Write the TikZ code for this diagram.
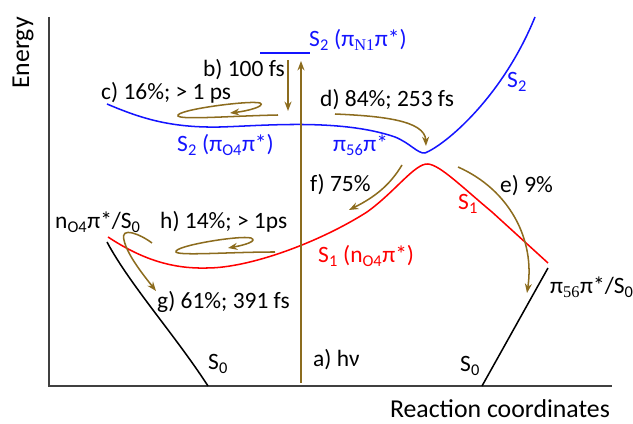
\documentclass[tikz,border=0pt]{standalone}
\usepackage{fontspec}
\setmainfont{Carlito}
\newfontfamily\serifsub{Liberation Serif}
\usetikzlibrary{arrows.meta}
\definecolor{pathbrown}{RGB}{140,108,30}
\definecolor{stateblue}{RGB}{20,20,255}
\definecolor{statered}{RGB}{255,0,0}
\begin{document}
\begin{tikzpicture}[x=0.3mm,y=-0.3mm,
        lbl/.style={inner sep=0pt,anchor=base west,font=\fontsize{20}{24}\selectfont},
        axlbl/.style={inner sep=0pt,font=\fontsize{22}{26}\selectfont},
        proc/.style={draw=pathbrown,line width=1.3pt,-{Stealth[length=8pt,width=6pt]}},
        pes/.style={line width=1.3pt}]
    \useasboundingbox (0,0) rectangle (633,424);
    % axes
    \draw [line width=1.4pt,black!75] (49,17) -- (49,386) -- (612,386);
    \node [axlbl,rotate=90] (energy) at (23,53) {Energy};
    \node [axlbl,anchor=base] (rcoord) at (500,418) {Reaction coordinates};
    % potential energy curves
    \draw [pes,stateblue] (260,53) -- (310,53);
    \draw [pes,stateblue] (107,104) .. controls (140,118) and (170,128) .. (220,127)
        .. controls (260,126) and (340,118) .. (395,137) .. controls (410,143) and (418,154) .. (425,153)
        .. controls (445,145) and (502,98) .. (535,17);
    \draw [pes,statered] (108,237) .. controls (140,258) and (170,269) .. (207,268)
        .. controls (250,268) and (320,242) .. (367,212) .. controls (395,192) and (415,163) .. (428,164)
        .. controls (440,165) and (462,187) .. (492,212) -- (548,263);
    \draw [pes,black] (107,242) .. controls (130,285) and (175,335) .. (208,386);
    \draw [pes,black] (548,268) .. controls (530,300) and (505,345) .. (482,386);
    % state labels
    \node [lbl,stateblue] (s2n1) at (309,47) {S\textsubscript{2} (π\textsubscript{\serifsub N1}π*)};
    \node [lbl,stateblue] (s2o4) at (177,152) {S\textsubscript{2} (π\textsubscript{O4}π*)};
    \node [lbl,stateblue] (pi56) at (333,152) {π\textsubscript{56}π*};
    \node [lbl,stateblue] (s2) at (507,88) {S\textsubscript{2}};
    \node [lbl,statered] (s1) at (458,210) {S\textsubscript{1}};
    \node [lbl,statered] (s1o4) at (318,263) {S\textsubscript{1} (n\textsubscript{O4}π*)};
    \node [lbl] (no4s0) at (55,229) {n\textsubscript{O4}π*/S\textsubscript{0}};
    \node [lbl] (pi56s0) at (550,294) {π\textsubscript{\serifsub 56}π*/S\textsubscript{0}};
    \node [lbl] (s0l) at (208,370) {S\textsubscript{0}};
    \node [lbl] (s0r) at (460,372) {S\textsubscript{0}};
    % process labels
    \node [lbl] (la) at (313,367) {a) hν};
    \node [lbl,anchor=base east] (lb) at (285,77) {b) 100 fs};
    \node [lbl] (lc) at (101,100) {c) 16\%; > 1 ps};
    \node [lbl] (ld) at (320,107) {d) 84\%; 253 fs};
    \node [lbl] (le) at (500,193) {e) 9\%};
    \node [lbl] (lf) at (310,192) {f) 75\%};
    \node [lbl] (lg) at (157,309) {g) 61\%; 391 fs};
    \node [lbl] (lh) at (160,229) {h) 14\%; > 1ps};
    % processes
    \coordinate (a0) at (301,383); \coordinate (a1) at (301,61);
    \coordinate (b0) at (288,60);  \coordinate (b1) at (288,111);
    \coordinate (c0) at (278,115); \coordinate (c1) at (230,113);
    \coordinate (d0) at (335,114); \coordinate (d1) at (426,146);
    \coordinate (e0) at (458,167); \coordinate (e1) at (527,293);
    \coordinate (f0) at (402,165); \coordinate (f1) at (349,210);
    \coordinate (g0) at (152,243); \coordinate (g1) at (156,291);
    \coordinate (h0) at (275,252); \coordinate (h1) at (228,248);
    \draw [proc] (a0) -- (a1);
    \draw [proc] (b0) -- (b1);
    \draw [proc] (c0) .. controls (230,116) and (182,120) .. (178,116)
        .. controls (174,110) and (250,100) .. (260,103) .. controls (266,106) and (248,111) .. (c1);
    \draw [proc] (d0) .. controls (380,116) and (425,120) .. (d1);
    \draw [proc] (e0) .. controls (510,190) and (535,240) .. (e1);
    \draw [proc] (f0) .. controls (390,185) and (375,197) .. (f1);
    \draw [proc] (g0) .. controls (140,234) and (120,226) .. (124,240) .. controls (127,255) and (145,277) .. (g1);
    \draw [proc] (h0) .. controls (230,252) and (179,256) .. (176,252)
        .. controls (173,246) and (240,235) .. (251,238) .. controls (258,241) and (245,245) .. (h1);
\end{tikzpicture}
\end{document}
